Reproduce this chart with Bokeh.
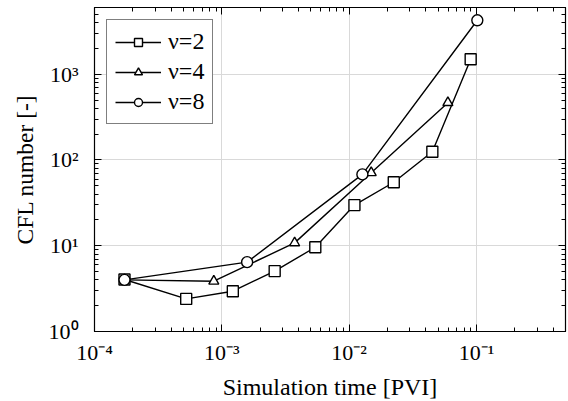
from bokeh.plotting import figure
from bokeh.models import LogAxis, LogTicker, CustomJSTickFormatter, Legend
from bokeh.embed import file_html
from bokeh.resources import INLINE

# Data
nu2_t = [1.72e-4, 5.25e-4, 1.22e-3, 2.6e-3, 5.42e-3, 1.1e-2, 2.24e-2, 4.5e-2, 9.0e-2]
nu2_cfl = [4.04, 2.4, 2.95, 5.06, 9.6, 29.8, 55, 125, 1493]
nu4_t = [1.72e-4, 8.65e-4, 3.73e-3, 1.49e-2, 5.96e-2]
nu4_cfl = [4.0, 3.86, 10.8, 71, 466]
nu8_t = [1.72e-4, 1.58e-3, 1.27e-2, 0.1015]
nu8_cfl = [4.0, 6.44, 67.9, 4256]

labels = ["ν=2", "ν=4", "ν=8"]
x_label = "Simulation time [PVI]"
y_label = "CFL number [-]"

FONT = "Liberation Serif"

fmt_code = """
const sup = {'-':'\u207b','0':'\u2070','1':'\u00b9','2':'\u00b2','3':'\u00b3','4':'\u2074',
             '5':'\u2075','6':'\u2076','7':'\u2077','8':'\u2078','9':'\u2079'};
const e = Math.round(Math.log10(tick));
return '10' + String(e).split('').map(c => sup[c]).join('');
"""

p = figure(frame_width=471, frame_height=324, x_axis_type="log", y_axis_type="log",
           x_range=(1e-4, 0.5), y_range=(1, 6000),
           output_backend="svg", toolbar_location=None,
           min_border_left=94, min_border_right=2, min_border_top=7, min_border_bottom=60)
p.background_fill_color = "white"
p.border_fill_color = "white"
p.outline_line_color = "black"
p.outline_line_width = 1.2

def style_axis(ax, labels_on):
    ax.ticker = LogTicker(num_minor_ticks=10)
    ax.axis_line_color = "black"
    ax.major_tick_in = 7
    ax.major_tick_out = 0
    ax.minor_tick_in = 4
    ax.minor_tick_out = 0
    ax.major_tick_line_color = "black"
    ax.minor_tick_line_color = "black"
    if labels_on:
        ax.formatter = CustomJSTickFormatter(code=fmt_code)
        ax.major_label_text_font = FONT
        ax.major_label_text_font_size = "22px"
        ax.major_label_text_color = "black"
        ax.axis_label_text_font = FONT
        ax.axis_label_text_font_style = "normal"
        ax.axis_label_text_color = "black"
    else:
        ax.formatter = CustomJSTickFormatter(code="return '';")
        ax.major_label_text_font_size = "1px"
        ax.major_label_text_alpha = 0
        ax.major_label_standoff = 0
        ax.axis_label_standoff = 0

style_axis(p.xaxis[0], True)
style_axis(p.yaxis[0], True)
p.xaxis[0].axis_label = x_label
p.yaxis[0].axis_label = y_label
p.xaxis[0].axis_label_text_font_size = "24px"
p.yaxis[0].axis_label_text_font_size = "23.5px"
p.xaxis[0].major_label_standoff = 8
p.yaxis[0].major_label_standoff = 16
p.xaxis[0].axis_label_standoff = 6
p.yaxis[0].axis_label_standoff = 8

top = LogAxis()
right = LogAxis()
style_axis(top, False)
style_axis(right, False)
p.add_layout(top, "above")
p.add_layout(right, "right")

p.xgrid.ticker = p.xaxis[0].ticker
p.ygrid.ticker = p.yaxis[0].ticker
p.xgrid.grid_line_color = "#d9d9d9"
p.ygrid.grid_line_color = "#d9d9d9"

lw = 1.4
r1 = p.line(nu2_t, nu2_cfl, line_color="black", line_width=lw)
s1 = p.scatter(nu2_t, nu2_cfl, marker="square", size=11, line_color="black",
               fill_color="white", line_width=lw)
r2 = p.line(nu4_t, nu4_cfl, line_color="black", line_width=lw)
s2 = p.scatter(nu4_t, nu4_cfl, marker="triangle", size=10, line_color="black",
               fill_color="white", line_width=lw)
r3 = p.line(nu8_t, nu8_cfl, line_color="black", line_width=lw)
s3 = p.scatter(nu8_t, nu8_cfl, marker="circle", size=11, line_color="black",
               fill_color="white", line_width=lw)

legend = Legend(items=[(labels[0], [r1, s1]), (labels[1], [r2, s2]), (labels[2], [r3, s3])],
                location="top_left")
legend.margin = 12
legend.padding = 8
legend.spacing = 3
legend.glyph_width = 46
legend.glyph_height = 20
legend.label_height = 20
legend.label_standoff = 7
legend.label_text_font = FONT
legend.label_text_font_size = "24px"
legend.label_text_color = "black"
legend.border_line_color = "black"
legend.border_line_width = 1
legend.background_fill_alpha = 1
p.add_layout(legend)

open("out.html", "w", encoding="utf-8").write(file_html(p, INLINE))
